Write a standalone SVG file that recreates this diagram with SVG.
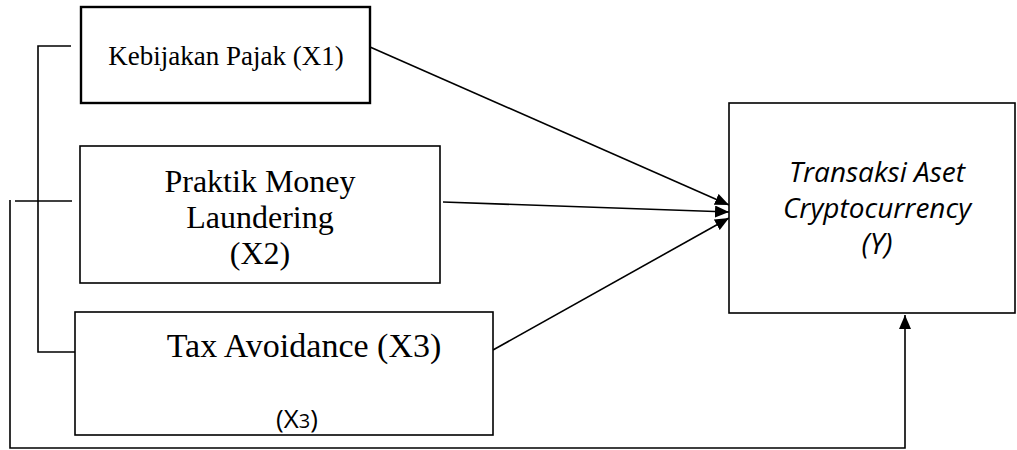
<svg xmlns="http://www.w3.org/2000/svg" width="1017" height="450" viewBox="0 0 1017 450">
  <style>
    .box { fill: #fff; stroke: #000; stroke-width: 1.6; }
    .box1 { fill: #fff; stroke: #000; stroke-width: 2.4; }
    .serif { font-family: "Liberation Serif", "Times New Roman", serif; fill: #000; text-anchor: middle; }
    .sans { font-family: "Open Sans", "Liberation Sans", sans-serif; fill: #000; text-anchor: middle; }
    .line { fill: none; stroke: #000; stroke-width: 1.6; }
  </style>
  <defs>
    <marker id="arr" viewBox="0 0 14 12" refX="14" refY="6" markerWidth="14" markerHeight="12" markerUnits="userSpaceOnUse" orient="auto">
      <path d="M0,0 L14,6 L0,12 z" fill="#000"/>
    </marker>
  </defs>
  <rect width="1017" height="450" fill="#fff"/>

  <g id="connectors">
    <polyline class="line" points="71,46 38,46 38,352 75,352"/>
    <line class="line" x1="15" y1="201" x2="72" y2="201"/>
    <polyline class="line" points="10,200 10,448 905,448 905,315" marker-end="url(#arr)"/>
    <line class="line" x1="370" y1="47" x2="729" y2="205" marker-end="url(#arr)"/>
    <line class="line" x1="443" y1="202" x2="729" y2="212" marker-end="url(#arr)"/>
    <line class="line" x1="493" y1="350" x2="729" y2="218" marker-end="url(#arr)"/>
  </g>

  <g id="x1">
    <rect class="box1" x="81" y="7" width="289" height="96"/>
    <text class="serif" x="226" y="65" font-size="27">Kebijakan Pajak (X1)</text>
  </g>

  <g id="x2">
    <rect class="box" x="80" y="146" width="360" height="137"/>
    <text class="serif" x="260" y="192" font-size="32">Praktik Money</text>
    <text class="serif" x="260" y="228" font-size="32">Laundering</text>
    <text class="serif" x="260" y="264" font-size="32">(X2)</text>
  </g>

  <g id="x3">
    <rect class="box" x="75" y="312" width="418" height="123"/>
    <text class="serif" x="304" y="357" font-size="34">Tax Avoidance (X3)</text>
    <text class="sans" x="297" y="428" font-size="26">(X<tspan font-size="20">3</tspan>)</text>
  </g>

  <g id="y">
    <rect class="box" x="729" y="103" width="286" height="210"/>
    <text class="sans" x="877" y="182" font-size="28" font-style="italic">Transaksi Aset</text>
    <text class="sans" x="877" y="218" font-size="28" font-style="italic">Cryptocurrency</text>
    <text class="sans" x="877" y="254" font-size="29" font-style="italic">(Y)</text>
  </g>
</svg>
